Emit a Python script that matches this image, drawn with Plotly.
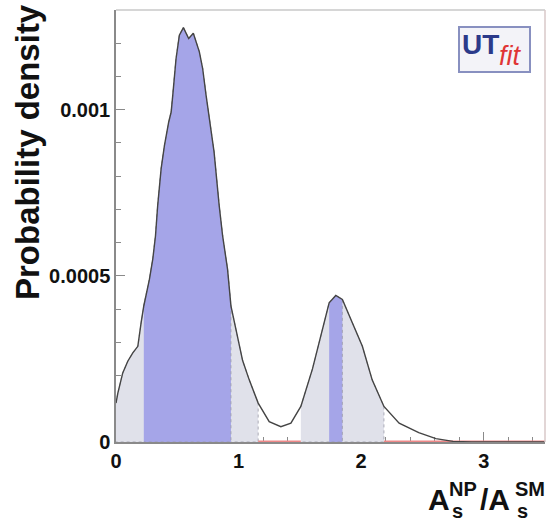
import numpy as np
import plotly.graph_objects as go

# ---- data ----
x_vals = [0.0, 0.015, 0.055, 0.096, 0.137, 0.178, 0.205, 0.227, 0.273, 0.30, 0.322,
          0.34, 0.368, 0.395, 0.43, 0.45, 0.463, 0.49, 0.517, 0.55, 0.593, 0.631,
          0.68, 0.707, 0.735, 0.761, 0.80, 0.842, 0.87, 0.91, 0.938, 0.979, 1.033,
          1.087, 1.16, 1.25, 1.345, 1.427, 1.508, 1.603, 1.684, 1.739, 1.793, 1.847,
          1.928, 2.01, 2.09, 2.186, 2.31, 2.47, 2.61, 2.75, 2.9, 3.5]
density = [1.17e-4, 1.47e-4, 2.08e-4, 2.43e-4, 2.68e-4, 2.88e-4, 3.59e-4, 4.10e-4,
           4.90e-4, 5.50e-4, 6.20e-4, 7.11e-4, 8.22e-4, 8.92e-4, 9.63e-4, 9.93e-4,
           10.43e-4, 11.54e-4, 12.24e-4, 12.47e-4, 12.14e-4, 12.30e-4, 11.74e-4,
           11.24e-4, 10.43e-4, 9.73e-4, 8.73e-4, 7.11e-4, 6.20e-4, 5.20e-4, 4.09e-4,
           3.38e-4, 2.45e-4, 1.87e-4, 1.17e-4, 0.613e-4, 0.462e-4, 0.565e-4, 1.07e-4,
           2.20e-4, 3.38e-4, 4.19e-4, 4.41e-4, 4.29e-4, 3.59e-4, 2.88e-4, 1.87e-4,
           1.07e-4, 0.565e-4, 0.28e-4, 0.10e-4, 0.02e-4, 0.0, 0.0]
inner_ranges = [(0.227, 0.938), (1.739, 1.847)]   # 68% regions (blue)
outer_ranges = [(0.0, 1.16), (1.508, 2.186)]      # 95% regions (grey)
x_range = [0.0, 3.5]
y_range = [0.0, 0.0013]
x_tick_vals = [0, 1, 2, 3]
x_tick_text = ["0", "1", "2", "3"]
y_tick_vals = [0, 0.0005, 0.001]
y_tick_text = ["0", "0.0005", "0.001"]

xa = np.array(x_vals)
ya = np.array(density)

fig = go.Figure()


def region_trace(a, b, fill):
    m = (xa >= a - 1e-9) & (xa <= b + 1e-9)
    xs = list(xa[m]) + [b, a]
    ys = list(ya[m]) + [0, 0]
    return go.Scatter(x=xs, y=ys, fill="toself", fillcolor=fill, mode="lines",
                      line=dict(color="#9a9aa8", width=0.8, dash="dot"),
                      hoverinfo="skip", showlegend=False)


for a, b in outer_ranges:
    fig.add_trace(region_trace(a, b, "#e0e1ea"))
for a, b in inner_ranges:
    fig.add_trace(region_trace(a, b, "#a5a5e8"))

# red baseline outside the 95% regions
rx, ry = [], []
edges = [o[1] for o in outer_ranges]
starts = [o[0] for o in outer_ranges[1:]] + [x_range[1]]
for s, e in zip(edges, starts):
    rx += [s, e, None]
    ry += [0, 0, None]
fig.add_trace(go.Scatter(x=rx, y=ry, mode="lines", line=dict(color="#ee8888", width=3),
                         hoverinfo="skip", showlegend=False))

# the density curve
fig.add_trace(go.Scatter(x=x_vals, y=density, mode="lines",
                         line=dict(color="#444444", width=1.4),
                         hoverinfo="skip", showlegend=False))

FONT = "Arial, Liberation Sans, Helvetica, sans-serif"
L, R, T, B = 116, 4, 10, 81
W, H = 549, 523
pw, ph = W - L - R, H - T - B


def px(xp):
    return (xp - L) / pw


def py(yp):
    return (H - B - yp) / ph


fig.update_layout(
    width=W, height=H,
    margin=dict(l=L, r=R, t=T, b=B),
    paper_bgcolor="white", plot_bgcolor="white",
    font=dict(family=FONT, color="#111111"),
    xaxis=dict(range=x_range, showgrid=False, zeroline=False,
               showline=True, linecolor="#8a8a8a", linewidth=1.5,
               ticks="inside", ticklen=10, tickcolor="#8a8a8a", tickwidth=1.2,
               tickvals=x_tick_vals, ticktext=x_tick_text,
               tickfont=dict(size=20, family=FONT, weight="bold"),
               minor=dict(ticks="inside", ticklen=5, dtick=0.2, tickcolor="#8a8a8a", showgrid=False),
               layer="below traces"),
    yaxis=dict(range=y_range, showgrid=False, zeroline=False,
               showline=True, linecolor="#8a8a8a", linewidth=1.5,
               ticks="inside", ticklen=9, tickcolor="#8a8a8a", tickwidth=1.2,
               tickvals=y_tick_vals, ticktext=y_tick_text,
               tickfont=dict(size=20, family=FONT, weight="bold"),
               minor=dict(ticks="inside", ticklen=5, dtick=0.0001, tickcolor="#8a8a8a", showgrid=False),
               layer="below traces"),
)

# light top/right frame
fig.add_shape(type="line", xref="paper", yref="paper", x0=0, x1=1, y0=1, y1=1,
              line=dict(color="#c8c8c8", width=1.5))
fig.add_shape(type="line", xref="paper", yref="paper", x0=1, x1=1, y0=0, y1=1,
              line=dict(color="#d8c8c8", width=1.5))

# y axis title
fig.add_annotation(xref="paper", yref="paper", x=px(27), y=py(152), text="Probability density",
                   textangle=-90, showarrow=False, xanchor="center", yanchor="middle",
                   font=dict(size=33, family=FONT, weight="bold", color="#111111"))

# x axis title  A_s^NP / A_s^SM
big = dict(size=30, family=FONT, weight="bold", color="#111111")
small = dict(size=20, family=FONT, weight="bold", color="#111111")
fig.add_annotation(xref="paper", yref="paper", x=px(426), y=py(499), text="A",
                   showarrow=False, xanchor="left", yanchor="middle", font=big)
fig.add_annotation(xref="paper", yref="paper", x=px(447), y=py(489), text="NP",
                   showarrow=False, xanchor="left", yanchor="middle", font=small)
fig.add_annotation(xref="paper", yref="paper", x=px(450), y=py(511), text="s",
                   showarrow=False, xanchor="left", yanchor="middle", font=small)
fig.add_annotation(xref="paper", yref="paper", x=px(478), y=py(499), text="/A",
                   showarrow=False, xanchor="left", yanchor="middle", font=big)
fig.add_annotation(xref="paper", yref="paper", x=px(513), y=py(489), text="SM",
                   showarrow=False, xanchor="left", yanchor="middle", font=small)
fig.add_annotation(xref="paper", yref="paper", x=px(515), y=py(511), text="s",
                   showarrow=False, xanchor="left", yanchor="middle", font=small)

# UTfit logo
fig.add_shape(type="rect", xref="paper", yref="paper", x0=px(459), x1=px(530), y0=py(72), y1=py(27),
              line=dict(color="#8890c0", width=2), fillcolor="#f3f3f8")
fig.add_annotation(xref="paper", yref="paper", x=px(460), y=py(44), text="UT",
                   showarrow=False, xanchor="left", yanchor="middle",
                   font=dict(size=28, family=FONT, weight="bold", color="#2b3a8a"))
fig.add_annotation(xref="paper", yref="paper", x=px(497), y=py(56), text="<i>fit</i>",
                   showarrow=False, xanchor="left", yanchor="middle",
                   font=dict(size=27, family=FONT, color="#e03535"))

fig.write_html("out.html", config={"displayModeBar": False},
               post_script="document.body.style.margin='0';document.body.style.padding='0';")
